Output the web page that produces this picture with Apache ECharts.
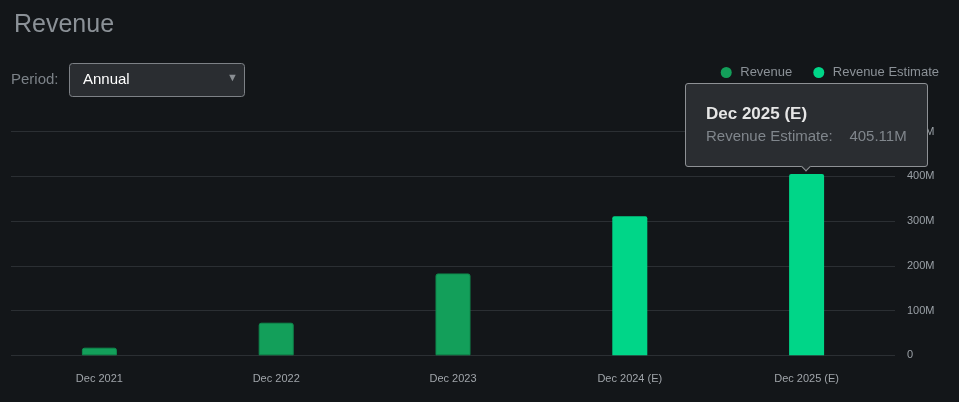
<!DOCTYPE html>
<html><head><meta charset="utf-8">
<script src="https://cdn.jsdelivr.net/npm/echarts@6/dist/echarts.min.js"></script>
<style>html,body{margin:0;padding:0;background:#131619;}#c{width:959px;height:402px;}</style>
</head><body><div id="c"></div>
<script>
const categories = ['Dec 2021','Dec 2022','Dec 2023','Dec 2024 (E)','Dec 2025 (E)'];
const revenue = [17, 72.8, 182.8, null, null];          // millions
const revenueEstimate = [null, null, null, 310.5, 405.11]; // millions
const yTicks = [0, 100, 200, 300, 400, 500];

const font = '"Liberation Sans", Arial, sans-serif';
const chart = echarts.init(document.getElementById('c'));
const fmt = v => v === 0 ? '0' : v + 'M';
chart.setOption({
  backgroundColor: '#131619',
  animation: false,
  textStyle: {fontFamily: font},
  title: {text: 'Revenue', left: 9, top: 8, textStyle: {color: '#8b9197', fontSize: 25, fontWeight: 'normal', fontFamily: font}},
  legend: {
    right: 15, top: 61, itemWidth: 18, itemHeight: 11, itemGap: 21, icon: 'circle',
    itemStyle: {borderWidth: 0},
    textStyle: {color: '#8b9197', fontSize: 13, fontFamily: font},
    data: ['Revenue', 'Revenue Estimate']
  },
  graphic: [
    {type: 'text', left: 11, top: 72, style: {text: 'Period:', fill: '#7c8288', font: '15px ' + font}},
    {type: 'rect', left: 69, top: 63, shape: {width: 175, height: 33, r: 3}, style: {fill: '#2a2d31', stroke: '#7d8186', lineWidth: 1}},
    {type: 'text', left: 83, top: 72, style: {text: 'Annual', fill: '#ffffff', font: '15px ' + font}},
    {type: 'text', left: 227, top: 72, style: {text: '▼', fill: '#8a8e93', font: '11px ' + font}}
  ],
  grid: {left: 11, right: 64, top: 131.5, bottom: 46.7},
  tooltip: {
    trigger: 'item', position: 'top', alwaysShowContent: true,
    backgroundColor: '#2a2d31', borderColor: '#8e9195', borderWidth: 1, padding: [19, 20, 19, 20],
    extraCssText: 'box-shadow:none;border-radius:3px;margin-top:3px;',
    formatter: p => '<div style="font-family:Liberation Sans,Arial;font-weight:bold;font-size:17px;color:#e6e6e6;line-height:22px;">' + p.name + '</div>' +
      '<div style="font-family:Liberation Sans,Arial;font-size:15px;color:#80868c;line-height:22px;">' + p.seriesName + ':&nbsp;&nbsp;&nbsp;&nbsp;' + p.value + 'M</div>'
  },
  xAxis: {
    type: 'category', data: categories,
    axisLine: {show: false}, axisTick: {show: false},
    axisLabel: {color: '#a0a5aa', fontSize: 11, margin: 18, fontFamily: font}
  },
  yAxis: {
    type: 'value', position: 'right', min: 0, max: 500, interval: 100,
    axisLine: {show: false}, axisTick: {show: false},
    splitLine: {lineStyle: {color: '#2b2f33', width: 1}},
    axisLabel: {color: '#9aa0a6', fontSize: 11, margin: 12, fontFamily: font, formatter: fmt}
  },
  series: [
    {name: 'Revenue', type: 'bar', data: revenue, barWidth: 35, barGap: '-100%',
     itemStyle: {color: '#139f5a', borderColor: '#0f8a4d', borderWidth: 1, borderRadius: [2, 2, 0, 0]}},
    {name: 'Revenue Estimate', type: 'bar', data: revenueEstimate, barWidth: 35, barGap: '-100%',
     itemStyle: {color: '#00d688', borderRadius: [2, 2, 0, 0]}}
  ]
});
setTimeout(() => chart.dispatchAction({type: 'showTip', seriesIndex: 1, dataIndex: 4}), 50);
</script></body></html>
